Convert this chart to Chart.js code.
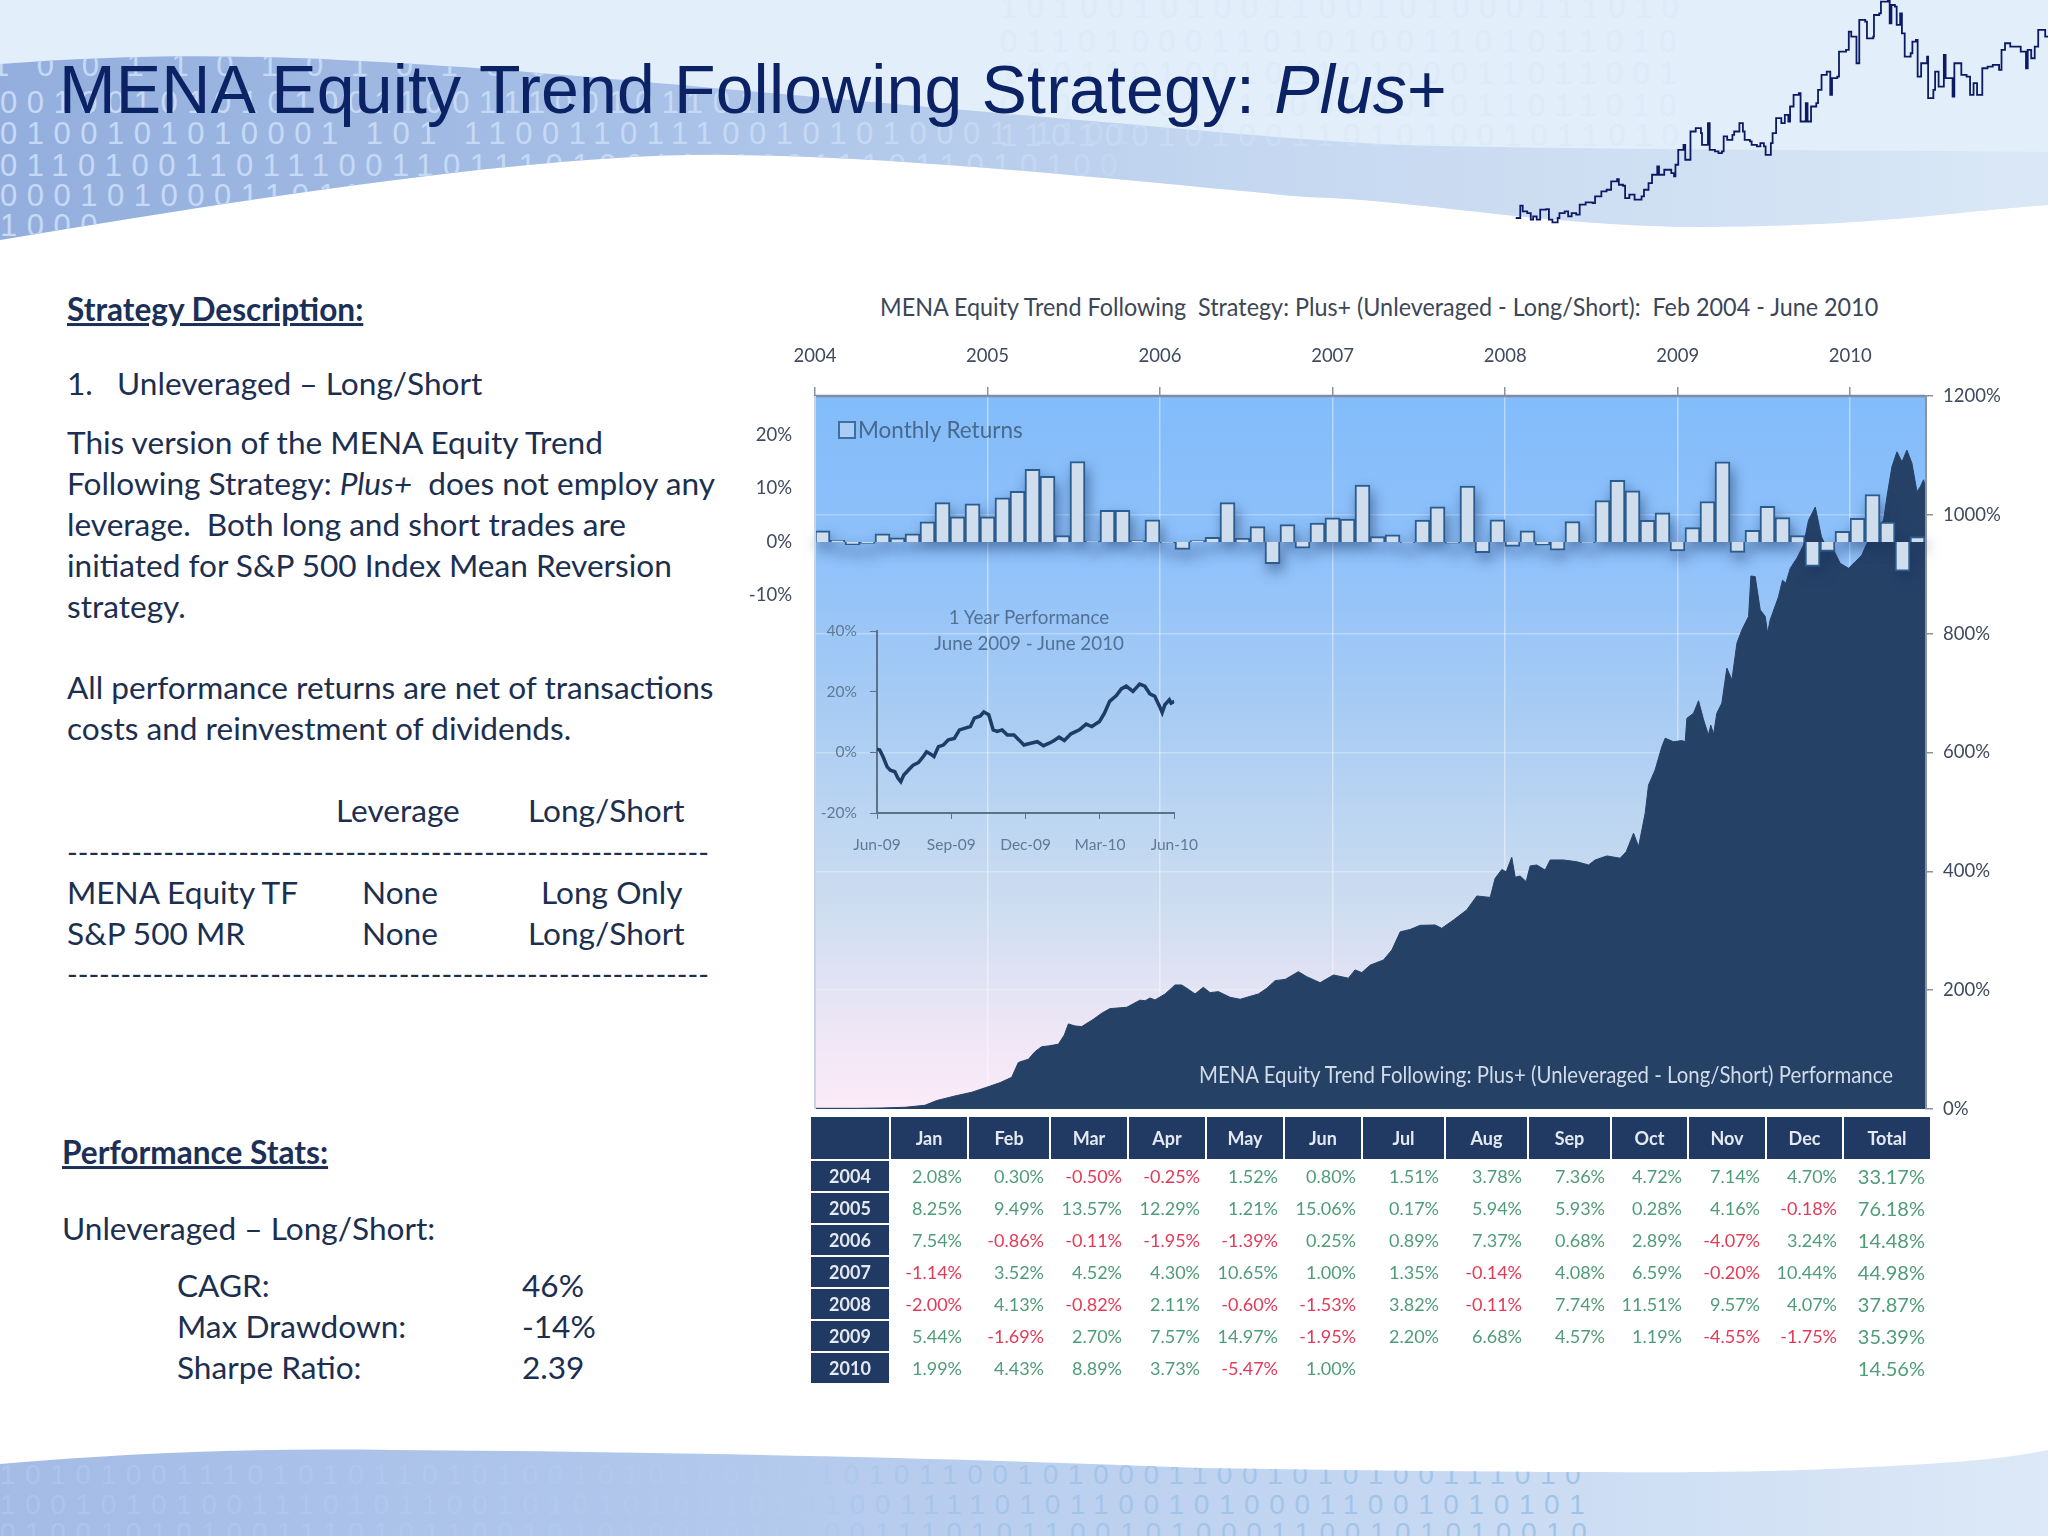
<!DOCTYPE html>
<html>
<head>
<meta charset="utf-8">
<title>MENA Equity Trend Following Strategy: Plus+</title>
<script src="https://cdn.jsdelivr.net/npm/chart.js@4"></script>
<style>
  html, body { margin:0; padding:0; width:2048px; height:1536px; overflow:hidden; background:#fff; }
  body { position:relative; font-family:Lato, sans-serif; color:#1c2f50; }
  canvas, svg.deco { position:absolute; display:block; }
  .t { position:absolute; white-space:pre; transform:translateY(-50%); font-size:31.6px; line-height:1.2; }
  .h { font-weight:700; text-decoration:underline; color:#1b2f57; }
  #title { position:absolute; left:59px; top:55px; font:68px/68px "Liberation Sans", sans-serif; letter-spacing:.15px; color:#0b2265; white-space:pre; }
  #chart-title { color:#3d4656; font-size:25px; transform:translateY(-50%) scaleX(.934); transform-origin:left center; }
  .legend-box { position:absolute; left:838px; top:421px; width:14px; height:14px; border:2px solid #3f6f9f; background:#a9cdf6; }
  #legend-label { left:858px; top:429px; font-size:22.5px; color:#48688c; }
  #area-label { left:1199px; top:1074px; font-size:24px; color:#d2dce8; transform:translateY(-50%) scaleX(.85); transform-origin:left center; }
  .inset-title { font-size:18.8px; color:#527196; left:929px; width:200px; text-align:center; }
  #returns-table { position:absolute; left:811px; top:1117px; display:grid; column-gap:2px; row-gap:2px;
    grid-template-columns:78px 76px 80px 76px 76px 76px 76px 81px 81px 81px 75px 76px 75px 86px;
    grid-template-rows:42px repeat(7,30px); font-size:18px; }
  #returns-table div { display:flex; align-items:center; justify-content:flex-end; padding-right:5px; white-space:nowrap; }
  #returns-table .hd { background:#203a63; color:#e4e9f1; justify-content:center; padding-right:0; font-weight:700; font-size:18px; }
  #returns-table .pos { color:#4f9c78; }
  #returns-table .neg { color:#e23a57; }
  #returns-table .tot { font-size:20px; color:#4f9c78; padding-right:5px; }
</style>
</head>
<body>

<!-- slide header / footer artwork -->
<svg class="deco" style="left:0;top:0" width="2048" height="260" viewBox="0 0 2048 260">
  <defs>
    <linearGradient id="bandTop" x1="0" x2="1" y1="0" y2="0">
      <stop offset="0" stop-color="#93aedd"/><stop offset=".3" stop-color="#a6bfe6"/>
      <stop offset=".6" stop-color="#c4d7f0"/><stop offset="1" stop-color="#dae8f6"/>
    </linearGradient>
    <linearGradient id="digitsTop" gradientUnits="userSpaceOnUse" x1="0" x2="1500" y1="0" y2="0">
      <stop offset="0" stop-color="#c6d9f5"/><stop offset=".6" stop-color="#c6d9f4"/>
      <stop offset="1" stop-color="#c9dcf5" stop-opacity="0"/>
    </linearGradient>
    <clipPath id="bandClip"><path d="M0 64 C120 55 220 54 340 60 C520 68 700 88 1045 117 C1200 130 1320 143 1437 146 C1640 150 1850 150 2048 152 L2048 205 C1950 212 1880 226 1700 227 C1540 226 1420 200 1306 197 C1120 180 900 156 731 155 C560 152 300 190 0 240 Z"/></clipPath>
    <clipPath id="skyClip"><rect x="0" y="0" width="2048" height="150"/></clipPath>
  </defs>
  <rect width="2048" height="260" fill="#e2eefa"/>
  <path d="M0 240 C300 190 560 152 731 155 C900 156 1120 180 1306 197 C1420 200 1540 226 1700 227 C1880 226 1950 212 2048 205 L2048 260 L0 260 Z" fill="#fff"/>
  <path d="M0 64 C120 55 220 54 340 60 C520 68 700 88 1045 117 C1200 130 1320 143 1437 146 C1640 150 1850 150 2048 152 L2048 205 C1950 212 1880 226 1700 227 C1540 226 1420 200 1306 197 C1120 180 900 156 731 155 C560 152 300 190 0 240 Z" fill="url(#bandTop)"/>
  <g clip-path="url(#skyClip)" font-family="Liberation Sans" font-size="31" letter-spacing="9.5" fill="#d6e6f7" opacity=".4">
    <text x="1000" y="18">10100101001100101000111010</text>
    <text x="1000" y="52">01101000110101001101011010</text>
    <text x="1000" y="84">10011010010110100011011001</text>
    <text x="1000" y="116">01001101011001001011011010</text>
    <text x="1000" y="146">11010010100110101001011010</text>
  </g>
  <g clip-path="url(#bandClip)" font-family="Liberation Sans" font-size="31" letter-spacing="9.5" fill="url(#digitsTop)">
    <text x="-8" y="76">1 0 0 1 1 0 1 0 1 0 1 0 0 1 1 1 0 0 1</text>
    <text x="0" y="113">00100101010100110011100101101</text>
    <text x="0" y="144">0100101010001 101 110011011100101010001 1101</text>
    <text x="0" y="176">0110100110111001101110100101000111011010100</text>
    <text x="0" y="206">00010100011011101010010</text>
    <text x="0" y="236">1000</text>
  </g>
</svg>

<svg class="deco" style="left:0;top:1440px" width="2048" height="96" viewBox="0 0 2048 96">
  <defs>
    <linearGradient id="bandBottom" x1="0" x2="1" y1="0" y2="0">
      <stop offset="0" stop-color="#a4bbe6"/><stop offset=".35" stop-color="#b2c8ec"/>
      <stop offset=".65" stop-color="#c3d6f1"/><stop offset="1" stop-color="#dde9f7"/>
    </linearGradient>
    <linearGradient id="digitsBottom" gradientUnits="userSpaceOnUse" x1="0" x2="2048" y1="0" y2="0">
      <stop offset="0" stop-color="#abc4ec"/><stop offset=".38" stop-color="#b4cbee"/>
      <stop offset=".46" stop-color="#a4c5ea"/><stop offset="1" stop-color="#9cc3e8"/>
    </linearGradient>
    <clipPath id="footClip"><path d="M0 24 C140 12 260 8 392 10 C640 12 900 16 1200 28 C1450 32 1700 34 1800 30 C1900 26 1990 22 2048 10 L2048 96 L0 96 Z"/></clipPath>
  </defs>
  <path d="M0 24 C140 12 260 8 392 10 C640 12 900 16 1200 28 C1450 32 1700 34 1800 30 C1900 26 1990 22 2048 10 L2048 96 L0 96 Z" fill="url(#bandBottom)"/>
  <g clip-path="url(#footClip)" font-family="Liberation Sans" font-size="28" letter-spacing="9.6" fill="url(#digitsBottom)">
    <text x="0" y="44">1010100111010101101010010101001111010110010100011001010100111010</text>
    <text x="0" y="74">1001010100111010110010101010010101001111010110010100011001010101</text>
    <text x="0" y="102">0100101010011101011001010100101010011101011001010001100101010010</text>
  </g>
</svg>

<canvas id="header-trend" width="548" height="233" style="left:1500px;top:0"></canvas>
<div id="title">MENA Equity Trend Following Strategy: <i>Plus</i>+</div>

<!-- left text column -->
<div class="t h" style="left:67px;top:310px">Strategy Description:</div>
<div class="t" style="left:67px;top:384px">1.   Unleveraged – Long/Short</div>
<div class="t" style="left:67px;top:443px">This version of the MENA Equity Trend</div>
<div class="t" style="left:67px;top:484px">Following Strategy: <i>Plus+</i>  does not employ any</div>
<div class="t" style="left:67px;top:525px">leverage.  Both long and short trades are</div>
<div class="t" style="left:67px;top:566px">initiated for S&amp;P 500 Index Mean Reversion</div>
<div class="t" style="left:67px;top:607px">strategy.</div>
<div class="t" style="left:67px;top:688px">All performance returns are net of transactions</div>
<div class="t" style="left:67px;top:729px">costs and reinvestment of dividends.</div>
<div class="t" style="left:336px;top:811px">Leverage</div>
<div class="t" style="left:528px;top:811px">Long/Short</div>
<div class="t" style="left:67px;top:852px;font-size:28.8px">------------------------------------------------------------</div>
<div class="t" style="left:67px;top:893px">MENA Equity TF</div>
<div class="t" style="left:362px;top:893px">None</div>
<div class="t" style="left:541px;top:893px">Long Only</div>
<div class="t" style="left:67px;top:934px">S&amp;P 500 MR</div>
<div class="t" style="left:362px;top:934px">None</div>
<div class="t" style="left:528px;top:934px">Long/Short</div>
<div class="t" style="left:67px;top:974px;font-size:28.8px">------------------------------------------------------------</div>
<div class="t h" style="left:62px;top:1153px">Performance Stats:</div>
<div class="t" style="left:62px;top:1229px">Unleveraged – Long/Short:</div>
<div class="t" style="left:177px;top:1286px">CAGR:</div>
<div class="t" style="left:522px;top:1286px">46%</div>
<div class="t" style="left:177px;top:1327px">Max Drawdown:</div>
<div class="t" style="left:522px;top:1327px">-14%</div>
<div class="t" style="left:177px;top:1368px">Sharpe Ratio:</div>
<div class="t" style="left:522px;top:1368px">2.39</div>

<!-- chart block -->
<div class="t" id="chart-title" style="left:880px;top:306px">MENA Equity Trend Following  Strategy: Plus+ (Unleveraged - Long/Short):  Feb 2004 - June 2010</div>
<canvas id="main-chart" width="1300" height="795" style="left:740px;top:340px"></canvas>
<div class="legend-box"></div>
<div class="t" id="legend-label">Monthly Returns</div>
<div class="t" id="area-label">MENA Equity Trend Following: Plus+ (Unleveraged - Long/Short) Performance</div>
<canvas id="inset-chart" width="415" height="270" style="left:800px;top:600px"></canvas>
<div class="t inset-title" style="top:617px">1 Year Performance</div>
<div class="t inset-title" style="top:643px">June 2009 - June 2010</div>
<div id="returns-table"></div>

<script>
/* ---------- data ---------- */
const monthNames = ['Jan','Feb','Mar','Apr','May','Jun','Jul','Aug','Sep','Oct','Nov','Dec'];
const tableYears = ['2004','2005','2006','2007','2008','2009','2010'];

const returns2004 = [2.08,0.30,-0.50,-0.25,1.52,0.80,1.51,3.78,7.36,4.72,7.14,4.70];
const returns2005 = [8.25,9.49,13.57,12.29,1.21,15.06,0.17,5.94,5.93,0.28,4.16,-0.18];
const returns2006 = [7.54,-0.86,-0.11,-1.95,-1.39,0.25,0.89,7.37,0.68,2.89,-4.07,3.24];
const returns2007 = [-1.14,3.52,4.52,4.30,10.65,1.00,1.35,-0.14,4.08,6.59,-0.20,10.44];
const returns2008 = [-2.00,4.13,-0.82,2.11,-0.60,-1.53,3.82,-0.11,7.74,11.51,9.57,4.07];
const returns2009 = [5.44,-1.69,2.70,7.57,14.97,-1.95,2.20,6.68,4.57,1.19,-4.55,-1.75];
const returns2010 = [1.99,4.43,8.89,3.73,-5.47,1.00];
const yearTotals  = [33.17,76.18,14.48,44.98,37.87,35.39,14.56];

// the bar panel in the picture has no bars for Jan-Apr 2006
const monthlyBars = [...returns2004, ...returns2005, ...returns2006.slice(4),
                     ...returns2007, ...returns2008, ...returns2009, ...returns2010];
const barAxisTicks = [-10, 0, 10, 20];

const yearLabels = ['2004','2005','2006','2007','2008','2009','2010'];

// cumulative performance: months since Jan 2004 / percent
const equityMonths = [
  0,3,4.6,6.26,7.65,8.46,9.74,10.9,11.94,12.87,13.68,14.14,14.49,14.84,15.3,15.77,16.23,16.93,17.34,17.62,
  18.09,18.55,19.36,19.94,20.52,21.68,22.6,22.96,23.3,23.65,24.35,25.04,25.5,25.97,26.43,27.01,27.48,28.06,28.87,29.57,
  30.84,31.42,32,32.7,33.62,34.2,35.13,36.06,37.1,37.56,38.03,38.61,39.54,40.12,40.7,41.39,42.09,43.13,43.59,44.41,
  45.33,46.03,46.96,47.3,47.77,48.07,48.46,48.7,49.04,49.46,49.74,50.2,50.78,51.13,52.06,52.99,53.8,54.26,55.07,56,
  56.42,56.93,57.28,57.74,57.97,58.43,58.9,59.13,59.71,60.29,60.52,60.64,61.1,61.45,61.8,62.14,62.3,62.5,62.72,63.07,
  63.42,63.77,64.12,64.46,64.93,65.09,65.39,65.74,66.09,66.25,66.43,67.01,67.29,67.52,67.83,68.29,68.75,69.1,69.57,70,
  70.38,70.84,71.3,71.88,72.35,72.81,73.16,74.32,74.55,74.9,75.25,75.6,75.94,76.29,76.64,76.87,77.1,77.2
];
const equityPercent = [
  1,1,1.5,2.7,6.1,14,21.8,28,36.4,44.2,53.2,78,81,83.5,96.4,104.8,106,109,124.5,143,
  139.6,138.5,150.8,161,168.8,171,183,182,186.7,183.4,193.5,208.6,208.6,201.3,193.5,204.7,195.7,197.4,187.8,184.5,
  193.5,203,215.9,218,231,222.6,212.5,225.4,220,234,229.4,242,250.7,267.5,298,302,309,309.6,304,318,
  335,358.4,356,388,403,399,423.5,390,392,382.6,409,410.6,402,419,419,416,410.6,419,425.8,422,
  433,464,441.5,498,545,570.6,610,624,618,620,618,657.5,666,687,655,629.5,646,631,666,683,
  742,722,784,806,829,897,896,840,829,801,823,862,890,885,910,927,949,991,1013,963,
  943.6,941,918.4,910,921,932.4,952,991,1030,1081,1106,1089,1109,1087,1039,1047,1059,1050
];

// inset: 1 year performance, months since Jun 2009 / percent
const insetTickLabels = ['Jun-09','Sep-09','Dec-09','Mar-10','Jun-10'];
const insetMonths = [
  0,0.11,0.24,0.41,0.54,0.72,0.85,0.96,1.08,1.26,1.46,1.67,1.87,2,2.17,2.3,2.48,2.68,2.88,3.12,3.33,
  3.56,3.77,3.93,4.17,4.31,4.51,4.69,4.85,5.05,5.26,5.53,5.73,5.93,6.2,6.47,6.72,6.95,7.15,7.35,7.56,
  7.83,8.17,8.44,8.67,8.98,9.18,9.39,9.66,9.86,10.06,10.33,10.6,10.81,11.01,11.21,11.42,11.51,11.62,11.8,11.87,12
];
const insetPercent = [
  1,0.8,-1.4,-4.8,-5.9,-6.4,-8.6,-9.7,-7.5,-5.9,-4.2,-3.4,-1.4,0.2,-0.6,-1.4,1.9,2.4,4.1,4.6,7.4,
  8,8.5,11.3,12,13.3,12.4,7.4,6.9,7.4,5.7,5.7,4.1,2.4,3,3.5,2.2,3,3.9,5,3.9,
  6.1,7.4,9.3,8.5,10.2,12.9,16.8,18.7,20.9,21.8,20.1,22.5,21.8,19.3,18.5,14.9,13.1,15.7,17.3,16.2,16.8
];

// decorative price line in the header (arbitrary time / index level)
const headerTimes = [
  45,58,65,78,88,95,105,115,132,140,
  150,165,170,185,195,205,218,228,245,265,
  272,290,305,318,335,340,352,358,370,385,
  405,412,425,435,450,455,470,490,498,502,
  510,525,530,545,560,575,578,595,600,615,
  625,635,640,650,665,670,685,695,700,715,
  720,735,745,755,760,775,780,790,805,815,
  825,830,840,855,860,875,880,890,905,910,
  920,935,945,950,965,970,990,998,1005,1020,
  1028,1045,1050,1068,1070,1085,1090,1110,1115,1120,
  1130,1135,1145,1150,1158,1175,1180,1190,1195,1205,
  1222,1225,1240,1245,1255,1270,1275,1295,1300,1315,
  1320,1335,1345,1355,1365,1380,1395,1410,1428,1435,
  1445,1460,1475,1490,1505,1510,1520,1530,1540,1553,
  1560,1568
];
const headerLevels = [
  45,82,65,60,40,50,40,70,72,40,
  32,45,60,65,50,60,55,85,92,90,
  110,125,130,155,162,145,142,105,115,100,
  110,130,150,175,200,175,190,180,170,205,
  250,265,220,305,315,300,265,330,250,245,
  240,245,290,280,295,305,330,305,280,275,
  265,260,270,260,235,270,300,345,330,355,
  335,380,415,420,335,390,335,380,390,430,
  475,485,415,465,470,545,550,605,590,510,
  640,635,585,590,655,660,695,700,630,685,
  680,625,660,600,530,540,575,580,470,510,
  530,405,430,485,440,535,465,410,510,510,
  475,470,415,450,415,495,500,505,490,550,
  570,560,560,545,495,550,525,560,610,610,
  590,590
];

/* ---------- helpers ---------- */
const zip = (xs, ys) => xs.map((x, i) => ({ x, y: ys[i] }));
const fixedWidth  = w => scale => { scale.width = w; };
const fixedHeight = h => scale => { scale.height = h; };
const tickFont = { family:'Lato', size:18.5 };

/* ---------- main chart ---------- */
const plotPaint = {
  id: 'plotPaint',
  beforeDraw(chart) {
    const { ctx, chartArea: a } = chart;
    const g = ctx.createLinearGradient(0, a.top, 0, a.bottom);
    g.addColorStop(0,    '#82bcfa');
    g.addColorStop(0.22, '#8fc1fa');
    g.addColorStop(0.45, '#a9ccf3');
    g.addColorStop(0.7,  '#cbdcf0');
    g.addColorStop(0.88, '#ece6f5');
    g.addColorStop(1,    '#fdebf9');
    ctx.fillStyle = g;
    ctx.fillRect(a.left, a.top, a.width, a.height);
  },
  // soft shadow under the bars, taken from the bar elements themselves
  beforeDatasetDraw(chart, args) {
    if (args.meta.type !== 'bar') return;
    const ctx = chart.ctx;
    ctx.save();
    ctx.filter = 'blur(7px)';
    ctx.fillStyle = 'rgba(22,48,95,.55)';
    args.meta.data.forEach(el => {
      const { x, y, base, width } = el.getProps(['x', 'y', 'base', 'width'], true);
      ctx.fillRect(x - width / 2 + 3, Math.min(y, base) + 7, width, Math.max(Math.abs(base - y), 5));
    });
    ctx.restore();
  },
  afterDraw(chart) {
    const { ctx, chartArea: a } = chart;
    ctx.save();
    ctx.lineWidth = 2.5;
    ctx.strokeStyle = '#7e8da3';
    ctx.beginPath(); ctx.moveTo(a.left, a.top); ctx.lineTo(a.right, a.top); ctx.stroke();
    ctx.lineWidth = 2;
    ctx.strokeStyle = '#8a93a1';
    ctx.beginPath(); ctx.moveTo(a.right + 1, a.top); ctx.lineTo(a.right + 1, a.bottom); ctx.stroke();
    ctx.strokeStyle = '#c8d5e6';
    ctx.beginPath(); ctx.moveTo(a.left, a.top); ctx.lineTo(a.left, a.bottom); ctx.stroke();
    ctx.restore();
  }
};

new Chart(document.getElementById('main-chart'), {
  data: {
    datasets: [
      {
        type: 'bar', label: 'Monthly Returns', data: monthlyBars.map((v, i) => ({ x: i, y: v })),
        xAxisID: 'xBars', yAxisID: 'yBars', order: 1, grouped: false,
        backgroundColor: '#d0dded', borderColor: '#2b5c90', borderWidth: 2,
        barThickness: 15
      },
      {
        type: 'line', label: 'Performance', data: zip(equityMonths, equityPercent),
        xAxisID: 'xYears', yAxisID: 'yEquity', order: 2,
        borderColor: '#264166', backgroundColor: '#264166', borderWidth: 1,
        pointRadius: 0, tension: 0, fill: 'origin'
      }
    ]
  },
  options: {
    responsive: false, animation: false, devicePixelRatio: 1,
    plugins: { legend: { display: false }, tooltip: { enabled: false } },
    scales: {
      xBars: { type: 'linear', display: false, min: -0.5, max: monthlyBars.length - 0.5, offset: false },
      xYears: {
        type: 'linear', position: 'top', min: 0, max: 77.2, afterFit: fixedHeight(56),
        border: { display: false },
        grid: { color: 'rgba(255,255,255,.42)', tickColor: '#8a93a1', tickLength: 9, lineWidth: 1.5 },
        afterBuildTicks: s => { s.ticks = yearLabels.map((_, i) => ({ value: i * 12 })); },
        ticks: {
          padding: 20, font: tickFont, color: '#3f4a5c', maxRotation: 0, autoSkip: false,
          callback: (v) => yearLabels[v / 12]
        }
      },
      yBars: {
        type: 'linear', position: 'left', min: -106, max: 27.3, afterFit: fixedWidth(75),
        border: { display: false },
        grid: { display: false },
        afterBuildTicks: s => { s.ticks = barAxisTicks.map(value => ({ value })); },
        ticks: { padding: 15, font: tickFont, color: '#3f4a5c', callback: v => v + '%' }
      },
      yEquity: {
        type: 'linear', position: 'right', min: 0, max: 1200, afterFit: fixedWidth(115),
        border: { display: false },
        grid: { color: 'rgba(255,255,255,.3)', tickColor: '#8a93a1', tickLength: 8, lineWidth: 1.5 },
        ticks: { stepSize: 200, padding: 10, font: tickFont, color: '#3f4a5c', callback: v => v + '%' }
      }
    }
  },
  plugins: [plotPaint]
});

/* ---------- inset: 1 year performance ---------- */
new Chart(document.getElementById('inset-chart'), {
  type: 'line',
  data: {
    datasets: [{
      data: zip(insetMonths, insetPercent),
      borderColor: '#1d3c66', borderWidth: 3.5, pointRadius: 0, tension: 0
    }]
  },
  options: {
    responsive: false, animation: false, devicePixelRatio: 1,
    layout: { padding: { top: 31 } },
    plugins: { legend: { display: false }, tooltip: { enabled: false } },
    scales: {
      x: {
        type: 'linear', min: 0, max: 12, afterFit: fixedHeight(57),
        border: { color: '#5b7288', width: 2 },
        grid: { drawOnChartArea: false, tickColor: '#5b7288', tickLength: 6 },
        ticks: {
          stepSize: 3, padding: 17, maxRotation: 0,
          font: { family:'Lato', size:15.5 }, color: '#5f7a96',
          callback: v => insetTickLabels[v / 3]
        }
      },
      y: {
        min: -20, max: 40, afterFit: fixedWidth(77),
        border: { color: '#5b7288', width: 2 },
        grid: { drawOnChartArea: false, tickColor: '#5b7288', tickLength: 7 },
        ticks: { stepSize: 20, padding: 13, font: { family:'Lato', size:15.5 }, color: '#5f7a96', callback: v => v + '%' }
      }
    }
  }
});

/* ---------- header price line ---------- */
new Chart(document.getElementById('header-trend'), {
  type: 'line',
  data: {
    datasets: [{
      data: zip(headerTimes, headerLevels),
      borderColor: '#0c1a66', borderWidth: 1.8, pointRadius: 0, stepped: true
    }]
  },
  options: {
    responsive: false, animation: false, devicePixelRatio: 1,
    plugins: { legend: { display: false }, tooltip: { enabled: false } },
    scales: {
      x: { type: 'linear', display: false, min: 0, max: 1568 },
      y: { type: 'linear', display: false, min: 0, max: 700 }
    }
  }
});

/* ---------- monthly returns table ---------- */
function renderTable() {
  const rows = [returns2004, returns2005, returns2006, returns2007, returns2008, returns2009, returns2010];
  const pct = v => v.toFixed(2) + '%';
  let html = '<div class="hd"></div>' + monthNames.map(m => `<div class="hd">${m}</div>`).join('') + '<div class="hd">Total</div>';
  rows.forEach((row, r) => {
    html += `<div class="hd">${tableYears[r]}</div>`;
    monthNames.forEach((_, c) => {
      const v = row[c];
      html += v === undefined ? '<div></div>' : `<div class="${v < 0 ? 'neg' : 'pos'}">${pct(v)}</div>`;
    });
    html += `<div class="tot">${pct(yearTotals[r])}</div>`;
  });
  document.getElementById('returns-table').innerHTML = html;
}
renderTable();
</script>
</body>
</html>
